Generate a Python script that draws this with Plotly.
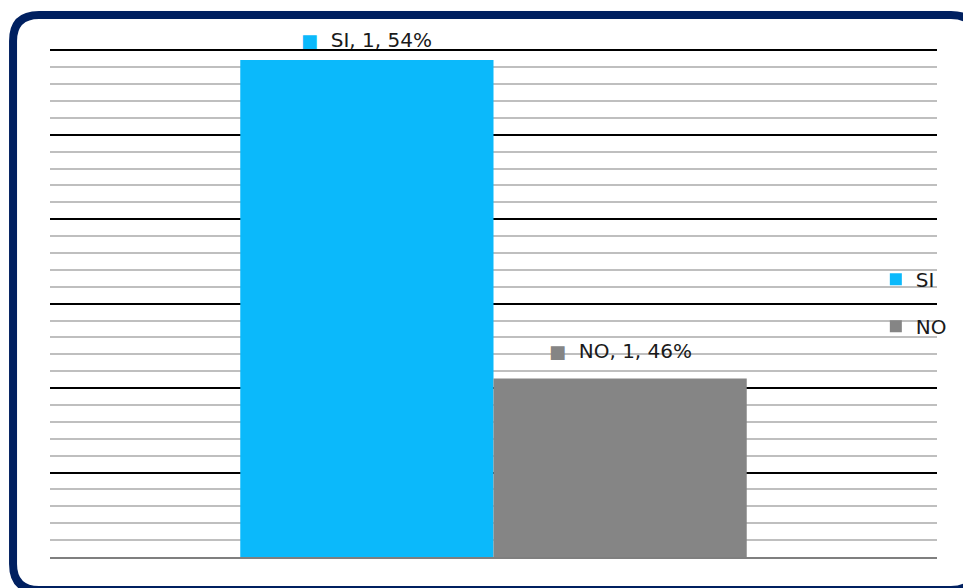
import plotly.graph_objects as go

# ---- data ----
categories = ["1"]
series_names = ["SI", "NO"]
si_values = [0.5377]
no_values = [0.4623]
y_range = [0.42, 0.54]
major_step = 0.02
minor_step = 0.004

# ---- styles ----
colors = {"SI": "#0BB9FB", "NO": "#858585"}
FONT = "DejaVu Sans"
W, H = 963, 588
ML, MR, MT, MB = 50, 25, 49, 31
plot_w = W - ML - MR
plot_h = H - MT - MB

series_values = {"SI": si_values, "NO": no_values}

fig = go.Figure()
for i, name in enumerate(series_names):
    fig.add_trace(go.Bar(
        x=categories, y=series_values[name], name=name,
        marker=dict(color=colors[name], line=dict(width=0)),
        legendgroup=name,
        hoverinfo="skip",
    ))

bargap = 0.429
bar_px = plot_w * (1 - bargap) / len(series_names)
label_yshift = {"SI": 20, "NO": 27}
annotations = []
for i, name in enumerate(series_names):
    v = series_values[name][0]
    txt = (f'<span style="color:{colors[name]};font-size:18px">■</span>  '
           f'{name}, {categories[0]}, {round(v * 100)}%')
    annotations.append(dict(
        x=categories.index(categories[0]), y=v, xref="x", yref="y",
        xshift=(i - (len(series_names) - 1) / 2) * bar_px,
        yshift=label_yshift[name], yanchor="middle", xanchor="center",
        text=txt, showarrow=False,
        font=dict(family=FONT, size=20, color="#1a1a1a"),
    ))

# rounded border in paper coords
def px(xp):
    return (xp - ML) / plot_w

def py(yp):
    return (H - MB - yp) / plot_h

L, T, R, B, r = 13, 15, 978, 590, 26
path = (f"M {px(L)},{py(T + r)} "
        f"Q {px(L)},{py(T)} {px(L + r)},{py(T)} "
        f"L {px(R - r)},{py(T)} "
        f"Q {px(R)},{py(T)} {px(R)},{py(T + r)} "
        f"L {px(R)},{py(B - r)} "
        f"Q {px(R)},{py(B)} {px(R - r)},{py(B)} "
        f"L {px(L + r)},{py(B)} "
        f"Q {px(L)},{py(B)} {px(L)},{py(B - r)} Z")

eps = 0.0003  # so the top grid line is drawn inside the plot area
fig.update_layout(
    width=W, height=H,
    margin=dict(l=ML, r=MR, t=MT, b=MB),
    paper_bgcolor="white", plot_bgcolor="white",
    barmode="group", bargap=bargap, bargroupgap=0,
    font=dict(family=FONT, size=20, color="#1a1a1a"),
    showlegend=True,
    legend=dict(
        x=0.93, y=0.585, xanchor="left", yanchor="top",
        bgcolor="rgba(0,0,0,0)", traceorder="grouped", tracegroupgap=18,
        font=dict(family=FONT, size=20, color="#1a1a1a"),
    ),
    xaxis=dict(type="category", range=[-0.5, 0.5], showticklabels=False,
               showgrid=False, zeroline=False,
               showline=True, linecolor="#7F7F7F", linewidth=2, ticks=""),
    yaxis=dict(range=[y_range[0], y_range[1] + eps], tick0=y_range[0],
               dtick=major_step,
               showticklabels=False, ticks="", zeroline=False,
               showgrid=True, gridcolor="#000000", gridwidth=1.5,
               showline=False,
               minor=dict(tick0=y_range[0], dtick=minor_step, showgrid=True,
                          gridcolor="#BFBFBF", gridwidth=2, ticks="")),
    annotations=annotations,
    shapes=[dict(type="path", xref="paper", yref="paper", path=path,
                 line=dict(color="#002060", width=8), fillcolor="rgba(0,0,0,0)",
                 layer="above")],
)

fig.write_html("out.html",
               config={"displayModeBar": False},
               post_script="document.body.style.margin='0';document.body.style.overflow='hidden';")
